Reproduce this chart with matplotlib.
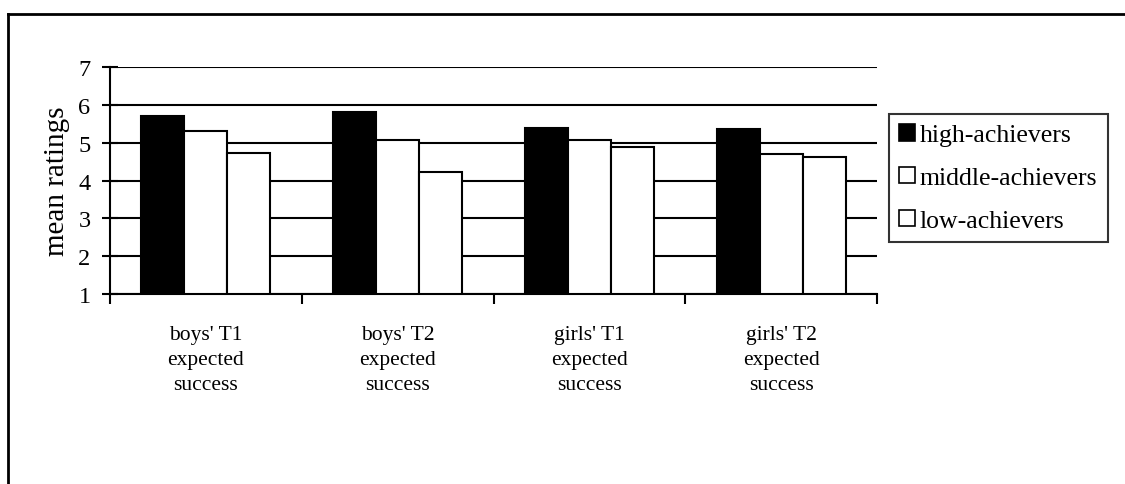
import matplotlib
matplotlib.use("Agg")
import matplotlib.pyplot as plt
from matplotlib.lines import Line2D
from matplotlib.patches import Patch
import numpy as np

plt.rcParams['font.family'] = ['Liberation Serif', 'DejaVu Serif']

categories = ["boys' T1\nexpected\nsuccess", "boys' T2\nexpected\nsuccess",
              "girls' T1\nexpected\nsuccess", "girls' T2\nexpected\nsuccess"]
series_names = ["high-achievers", "middle-achievers", "low-achievers"]
high = [5.70, 5.82, 5.39, 5.36]
middle = [5.32, 5.08, 5.07, 4.70]
low = [4.72, 4.22, 4.88, 4.62]
yticks = [1, 2, 3, 4, 5, 6, 7]

fig = plt.figure(figsize=(11.25, 4.85), dpi=100)
ax = fig.add_axes([110/1125, 1 - 295/485, 767/1125, (295 - 68.3)/485])

x = np.arange(len(categories))
w = 0.224
fills = ['black', 'white', 'white']
for k, (vals, fc) in enumerate(zip([high, middle, low], fills)):
    ax.bar(x + (k - 1) * w, np.array(vals) - 1, bottom=1, width=w,
           facecolor=fc, edgecolor='black', linewidth=1.5, zorder=3)

ax.set_xlim(-0.5, len(categories) - 0.5)
ax.set_ylim(1, 7)
ax.set_yticks(yticks)
ax.yaxis.grid(True, color='black', linewidth=1.5, zorder=0)
ax.set_axisbelow(True)

for s in ['top', 'right']:
    ax.spines[s].set_visible(False)
for s in ['left', 'bottom']:
    ax.spines[s].set_linewidth(1.5)

ax.set_xticks(x)
ax.set_xticklabels(categories, fontsize=15.5, linespacing=1.45)
ax.tick_params(axis='x', which='major', length=0, pad=22)
ax.set_xticks(np.arange(-0.5, len(categories)), minor=True)
ax.tick_params(axis='x', which='minor', direction='out', length=7, width=1.5)
ax.tick_params(axis='y', direction='inout', length=12, width=1.5, labelsize=17.5, pad=8)
ax.set_ylabel("mean ratings", fontsize=21, labelpad=6)

handles = [Patch(facecolor=fc, edgecolor='black', linewidth=1.2) for fc in fills]
leg = fig.legend(handles, series_names, loc='upper left',
                 bbox_to_anchor=(889/1125, 1 - 115/485), bbox_transform=fig.transFigure,
                 fontsize=18.5, frameon=True, fancybox=False, edgecolor='black',
                 handlelength=0.6, handleheight=0.6, handletextpad=0.2,
                 labelspacing=0.8, borderpad=0.4, borderaxespad=0)
leg.get_frame().set_linewidth(1.5)

fig.add_artist(Line2D([8/1125, 8/1125], [0, 1 - 15/485], transform=fig.transFigure,
                      color='black', linewidth=2))
fig.add_artist(Line2D([8/1125, 1], [1 - 15/485, 1 - 15/485], transform=fig.transFigure,
                      color='black', linewidth=2))

fig.savefig("out.png", dpi=100)
